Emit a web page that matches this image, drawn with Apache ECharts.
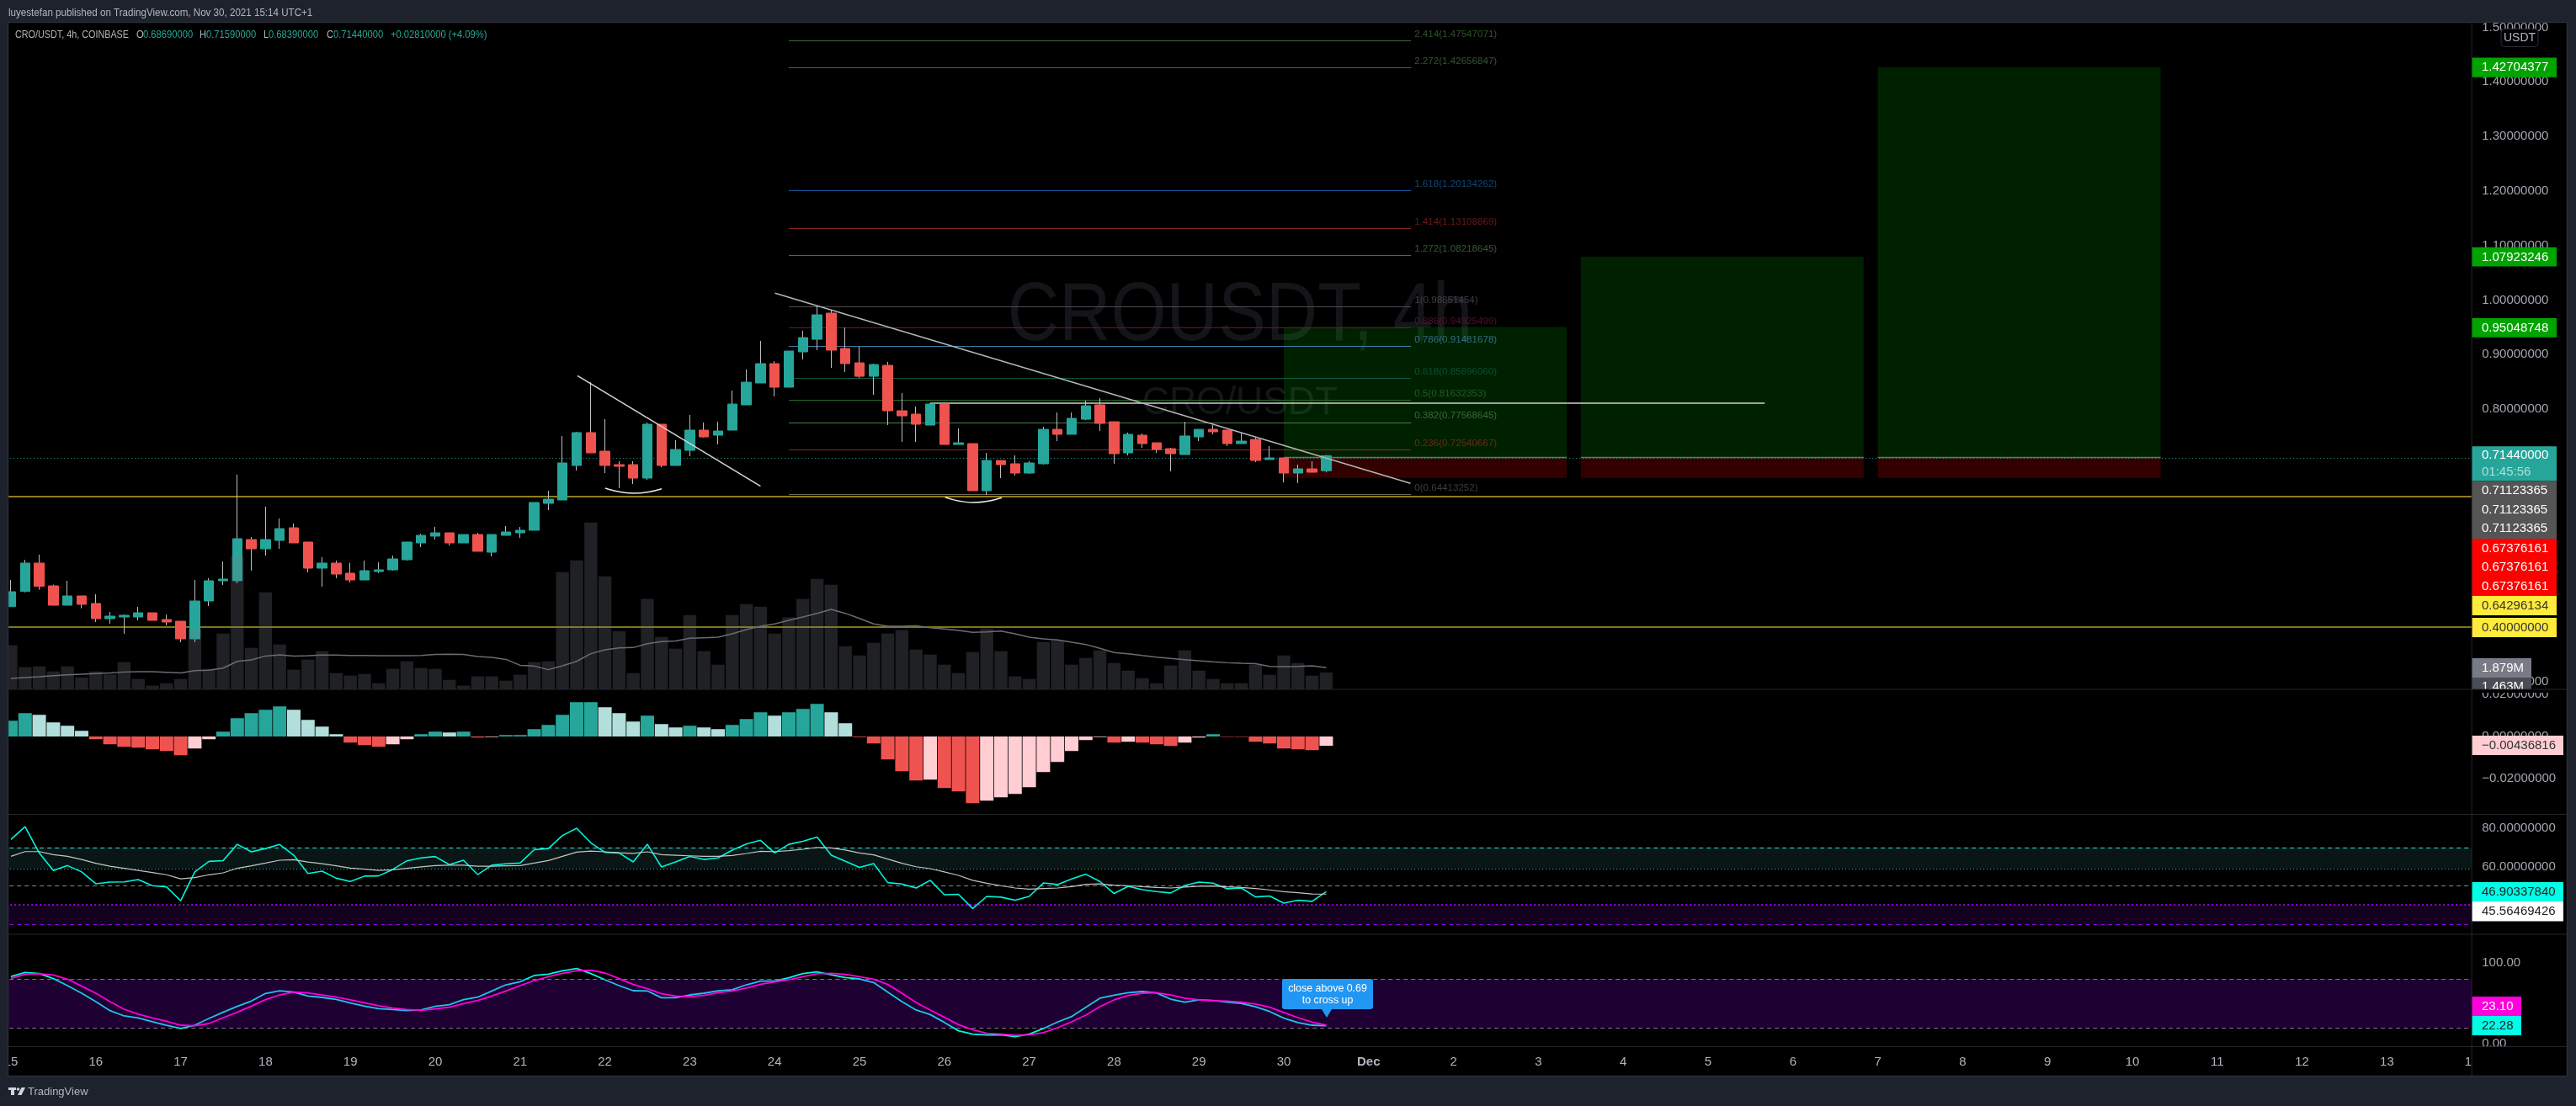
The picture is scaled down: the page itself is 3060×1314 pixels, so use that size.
<!DOCTYPE html>
<html>
<head>
<meta charset="utf-8">
<style>html,body{margin:0;padding:0;background:#1e222d;overflow:hidden}#c{width:3060px;height:1314px}</style>
<script src="https://cdn.jsdelivr.net/npm/echarts@6/dist/echarts.min.js"></script>
</head>
<body>
<div id="c"></div>
<script>
var opens=[.4378,.4656,.5176,.4759,.4404,.4574,.4435,.4157,.4188,.4188,
.4265,.4142,.4111,.3787,.4481,.4852,.4852,.5608,.5438,.5592,
.5824,.5562,.5083,.5176,.4991,.4867,.5021,.5052,.5237,.5546,
.5670,.5731,.5546,.5700,.5376,.5685,.5731,.5778,.6271,.6333,
.6966,.7568,.7228,.6981,.6981,.6734,.7722,.6966,.7243,.7614,
.7521,.7614,.8077,.8478,.8833,.8401,.9049,.9280,.9759,.9111,
.8848,.8601,.8802,.7969,.7907,.7706,.8092,.7351,.7367,.6503,
.7058,.6997,.6827,.6997,.7629,.7537,.7814,.8077,.7768,.7197,
.7521,.7382,.7274,.7166,.7490,.7629,.7614,.7367,.7444,.7074,
.7105,.6827,.6904,.6869];
var closes=[.4651,.5176,.4749,.4404,.4574,.4420,.4157,.4204,.4219,.4265,
.4126,.4096,.3787,.4481,.4852,.4883,.5623,.5438,.5608,.5808,
.5546,.5083,.5176,.4975,.4867,.5037,.5052,.5253,.5562,.5685,
.5731,.5546,.5700,.5392,.5700,.5747,.5778,.6287,.6349,.7012,
.7568,.7197,.6966,.6950,.6734,.7722,.6966,.7259,.7614,.7490,
.7598,.8092,.8493,.8833,.8401,.9064,.9311,.9728,.9080,.8833,
.8601,.8817,.7969,.7876,.7722,.8092,.7351,.7382,.6503,.7058,
.6981,.6827,.7012,.7629,.7537,.7830,.8061,.7737,.7182,.7537,
.7367,.7259,.7182,.7506,.7629,.7583,.7367,.7413,.7058,.7105,
.6827,.6904,.6842,.7144];
var highs=[.4867,.5237,.5330,.4780,.4852,.4574,.4605,.4281,.4234,.4373,
.4265,.4234,.4111,.4867,.4898,.5207,.6796,.5654,.6210,.5994,
.5901,.5562,.5284,.5222,.5182,.5222,.5191,.5315,.5562,.5716,
.5839,.5731,.5700,.5731,.5700,.5855,.5839,.6287,.6503,.7506,
.7583,.8494,.7815,.7043,.7043,.7753,.7722,.7429,.7892,.7753,
.7768,.8339,.8725,.9250,.8879,.9064,.9435,.9898,.9805,.9497,
.9142,.8833,.8864,.8293,.8046,.8108,.8108,.7645,.7367,.7197,
.7058,.7151,.7043,.7676,.7938,.7938,.8154,.8200,.7768,.7567,
.7552,.7382,.7290,.7768,.7629,.7706,.7614,.7567,.7490,.7321,
.7105,.6981,.7043,.7159];
var lows=[.4378,.4641,.4687,.4404,.4404,.4348,.4096,.4065,.3879,.4126,
.4126,.4034,.3725,.3725,.4389,.4775,.4805,.5037,.5315,.5438,
.5546,.5006,.4744,.4898,.4821,.4867,.4991,.5037,.5222,.5469,
.5608,.5500,.5546,.5392,.5299,.5685,.5639,.5778,.6148,.6333,
.6873,.7197,.6827,.6549,.6626,.6704,.6935,.6966,.7135,.7475,
.7351,.7614,.8077,.8478,.8231,.8401,.8910,.9080,.8756,.8679,
.8571,.8262,.7706,.7398,.7398,.7706,.7351,.7351,.6503,.6426,
.6734,.6780,.6811,.6981,.7413,.7537,.7799,.7598,.6997,.7151,
.7290,.7197,.6858,.7166,.7413,.7537,.7321,.7367,.7027,.7074,
.6657,.6642,.6842,.6839];
var volumes=[3.81,1.92,1.99,1.55,1.99,1.04,1.55,1.28,2.35,.90,
.32,.53,.90,5.19,1.77,4.82,11.52,3.59,8.39,3.88,
1.70,2.57,3.30,1.41,1.19,1.33,.53,1.77,2.42,1.84,
1.77,.82,.32,1.12,1.12,.75,1.26,2.35,2.42,10.13,
11.15,14.42,9.77,5.04,1.41,7.81,4.53,3.52,6.42,3.30,
2.13,6.42,7.37,7.15,4.82,6.21,7.81,9.55,9.04,3.73,
2.93,4.02,4.82,5.12,3.44,3.01,2.13,1.41,3.22,5.26,
3.30,1.12,.90,4.10,4.24,2.13,2.72,3.37,2.28,1.62,
.97,.53,2.06,3.37,1.62,.90,.53,.53,2.13,1.26,
2.93,2.28,1.19,1.46];
var volumeMA=[.95,1.02,1.09,1.19,1.26,1.31,1.36,1.41,1.50,1.53,
1.53,1.48,1.41,1.62,1.65,1.84,2.42,2.55,2.88,2.98,
2.88,2.91,2.96,2.96,2.93,2.93,2.91,2.91,2.91,2.93,
3.01,3.03,3.01,2.84,2.76,2.59,2.08,2.01,1.70,2.04,
2.42,3.08,3.42,3.59,3.61,3.95,4.12,4.19,4.41,4.46,
4.51,4.80,5.16,5.45,5.65,5.96,6.25,6.57,6.91,6.57,
6.13,5.65,5.45,5.45,5.50,5.33,5.21,5.09,4.92,4.97,
5.04,4.80,4.51,4.36,4.27,4.07,3.88,3.54,3.18,3.08,
2.93,2.79,2.67,2.57,2.47,2.38,2.30,2.25,2.21,1.99,
1.96,1.99,2.04,1.88];
var macdHist=[.0075,.0111,.0103,.0067,.0051,.0027,-.0013,-.0037,-.0049,-.0053,
-.0061,-.0069,-.0089,-.0057,-.0013,.0023,.0087,.0111,.0127,.0143,
.0127,.0079,.0047,.0011,-.0029,-.0041,-.0049,-.0037,-.0013,.0011,
.0023,.0019,.0023,-.0005,-.0003,.0007,.0007,.0035,.0055,.0103,
.0163,.0163,.0139,.0111,.0071,.0099,.0059,.0043,.0051,.0043,
.0035,.0055,.0083,.0115,.0099,.0115,.0131,.0155,.0115,.0063,
-.0003,-.0033,-.0109,-.0165,-.0209,-.0205,-.0245,-.0261,-.0317,-.0305,
-.0289,-.0273,-.0241,-.0169,-.0121,-.0069,-.0017,-.0003,-.0029,-.0025,
-.0029,-.0037,-.0045,-.0029,-.0005,.0011,-.0002,-.0002,-.0025,-.0033,
-.0057,-.0061,-.0065,-.0044];
var rsiValues=[74.1,80.8,67.1,57.9,60.5,57.2,51.0,51.9,52.0,53.2,
50.0,49.4,42.1,57.2,62.7,63.1,71.6,67.7,69.4,71.5,
65.9,56.4,57.6,53.9,52.2,55.0,55.1,58.5,63.0,64.5,
65.2,61.0,63.3,55.8,60.7,61.4,61.8,68.8,69.4,76.2,
80.0,72.4,67.4,67.1,62.4,71.6,59.8,62.4,65.3,63.7,
64.5,68.6,71.8,73.7,67.1,71.6,73.2,75.4,65.9,62.7,
59.6,61.5,51.6,50.9,48.8,52.8,45.3,45.5,38.1,44.4,
44.0,42.4,44.4,51.4,50.6,53.5,56.0,52.2,45.9,49.7,
47.9,46.9,46.2,50.1,51.9,51.3,48.4,48.8,44.1,44.6,
40.9,42.4,41.8,46.9];
var rsiMA=[65.3,67.8,67.8,66.2,65.3,63.7,61.7,60.2,59.1,58.0,
56.9,55.7,53.6,54.2,55.7,56.7,59.1,60.4,61.8,63.3,
63.6,62.4,61.5,60.4,59.2,58.6,58.0,58.3,59.1,59.8,
60.5,60.7,60.7,60.2,60.2,60.4,60.5,61.8,63.1,65.3,
67.5,68.1,67.7,67.2,66.9,67.7,66.2,65.9,65.6,65.3,
65.3,65.8,66.8,68.0,67.8,68.3,69.0,70.0,69.7,68.6,
67.1,66.1,63.9,61.7,59.9,58.9,57.2,55.4,52.8,51.3,
50.0,48.8,48.2,48.5,48.8,49.5,50.7,50.9,50.3,50.0,
49.5,49.1,48.8,49.3,49.7,49.8,49.4,49.1,48.5,47.8,
46.9,46.3,45.7,45.6];
var stochK=[83.3,88.2,86.8,80.6,71.9,62.5,52.1,41.0,34.4,32.0,
27.1,22.9,18.8,22.9,31.3,38.9,46.2,52.8,62.2,65.6,
63.9,59.0,57.3,54.9,50.4,46.5,43.4,42.4,41.0,41.7,
46.2,48.3,54.5,57.6,65.3,72.9,76.7,84.4,86.1,90.3,
93.1,86.8,79.2,71.9,65.6,65.3,56.9,56.9,60.4,62.5,
65.6,66.7,72.9,77.4,77.4,81.6,86.8,88.9,85.4,81.9,
80.2,75.7,63.9,52.1,41.7,36.1,26.4,16.0,11.8,10.8,
11.1,8.7,11.8,18.8,26.8,33.7,45.1,56.3,60.1,63.2,
64.6,62.9,55.2,51.4,54.2,53.5,51.4,50.0,45.8,39.9,
31.6,26.1,22.9,22.3];
var stochD=[80.9,85.8,86.5,85.1,79.9,71.2,62.5,52.1,42.7,36.5,
32.0,27.8,22.9,22.2,25.0,32.0,38.9,46.5,54.5,60.4,
63.9,62.9,60.4,57.6,54.2,50.7,46.9,44.1,42.4,41.3,
43.1,45.1,49.7,53.5,59.0,65.3,71.9,78.1,83.0,87.2,
90.3,91.0,87.5,80.6,73.3,68.1,61.8,59.0,58.3,59.7,
63.2,65.3,68.8,73.6,76.4,79.2,83.0,86.5,87.2,85.8,
83.0,79.9,73.3,62.5,51.1,41.7,32.7,23.6,17.4,12.9,
11.8,10.4,11.1,13.6,19.8,27.1,35.4,45.8,54.2,59.7,
62.5,63.2,60.4,56.3,54.2,53.1,52.8,51.4,49.0,45.1,
38.6,32.3,26.8,23.1];
var dayLabels=['14','15','16','17','18','19','20','21','22','23','24','25','26','27','28','29','30','Dec','2','3','4','5','6','7','8','9','10','11','12','13','14'];
var fibRatios=['2.414','2.272','1.618','1.414','1.272','1','0.886','0.786','0.618','0.5','0.382','0.236','0'];
var fibPrices=[1.47547071,1.42656847,1.20134262,1.13108869,1.08218645,0.98851454,0.94925499,0.91481678,0.85696060,0.81632353,0.77568645,0.72540667,0.64413252];
var fibStartBar=55, fibEndBar=99;
var positionBars=[[90,110],[111,131],[132,152]];
var positionTargets=[0.95048748,1.07923246,1.42704377];
var positionEntry=0.71123365, positionStop=0.67376161;
var supportLevels=[0.64296134,0.40000000];
var lastPrice=0.7144;
var resistanceLine=[[65,0.8119],[124,0.8119]];
var trendMajor=[[54.02,1.0125],[98.96,0.6637]];
var trendMinor=[[40.06,0.8613],[53.0,0.6585]];
var arcOne=[[42.02,0.6549],[44.02,0.6457],[46.01,0.6539]];
var arcTwo=[[66.05,0.6384],[68.04,0.6287],[70.06,0.6375]];
var rsiBands=[[59,70],[30,40]];
var rsiLevels=[70,59,50,40,30];
var stochBand=[20,80];
var priceTagText=['1.42704377','1.07923246','0.95048748','0.71440000','01:45:56','0.71123365','0.67376161','0.64296134','0.40000000','1.879M','1.463M','\u22120.00436816','46.90337840','45.56469426','23.10','22.28'];

var FONT='"Liberation Sans"';
var fibColors=['#3a6a35','#406a3c','#14589a','#8a1f1f','#466d46','#4c4c52','#701238','#3d7fa8','#0c5a45','#2a6a2a','#4a7a4a','#8a2a1a','#4a4a4a'];
var fibLineColors=fibColors.slice(); fibLineColors[12]='#6a6a55';
var UP='#26a69a', DOWN='#ef5350';

function idx(a){return a.map(function(v,i){return [i,v];});}
var L=-87.8, W=3024;
function grid(top,h){return {left:L,width:W,top:top,height:h,show:false,outerBoundsMode:'none'};}
function xAx(i,show){return {type:'value',gridIndex:i,min:-6,max:174,interval:6,splitLine:{show:false},axisLine:{show:false},axisTick:{show:false},
 axisLabel:{show:show,color:'#b2b5be',fontFamily:FONT,fontSize:15,margin:14,hideOverlap:false,showMinLabel:true,showMaxLabel:true,
  formatter:function(v){var s=dayLabels[Math.round(v/6)+1];return s==='Dec'?'{b|Dec}':s;},rich:{b:{fontFamily:FONT,fontSize:15,fontWeight:'bold',color:'#b2b5be'}}}};}
function yAx(i,min,max,interval,fmt,show){return {type:'value',gridIndex:i,position:'right',min:min,max:max,interval:interval,z:50,splitLine:{show:false},axisLine:{show:false},axisTick:{show:false},
 axisLabel:{show:show,color:'#a3a6af',fontFamily:FONT,fontSize:15,margin:12,formatter:fmt,hideOverlap:false,showMinLabel:true,showMaxLabel:true}};}

var fibSeriesLines=fibPrices.map(function(p,i){return [{coord:[fibStartBar,p],lineStyle:{color:fibLineColors[i],width:1.2,type:'solid'}},{coord:[fibEndBar,p]}];});
function hline(p,c,w,t){return {yAxis:p,lineStyle:{color:c,width:w,type:t||'solid'}};}

var mainAreas=[];
positionBars.forEach(function(b,i){
 mainAreas.push([{xAxis:b[0],yAxis:positionTargets[i],itemStyle:{color:'rgba(0,255,0,0.13)'}},{xAxis:b[1],yAxis:positionEntry}]);
 mainAreas.push([{xAxis:b[0],yAxis:positionEntry,itemStyle:{color:'rgba(255,0,0,0.2)'}},{xAxis:b[1],yAxis:positionStop}]);
});
var entryLines=positionBars.map(function(b){return [{coord:[b[0],positionEntry],lineStyle:{color:'#6e6e6e',width:1.3,type:'solid'}},{coord:[b[1],positionEntry]}];});

function trend(d,c,w,smooth){return {type:'line',data:d,xAxisIndex:0,yAxisIndex:0,showSymbol:false,symbol:'none',smooth:!!smooth,z:6,silent:true,animation:false,lineStyle:{color:c,width:w}};}

var series=[
 {type:'scatter',xAxisIndex:0,yAxisIndex:0,symbolSize:0,z:2,silent:true,animation:false,
  data:fibPrices.map(function(p,i){return {value:[fibEndBar,p],label:{show:true,position:'right',distance:4,offset:[0,-7.5],color:fibColors[i],fontFamily:FONT,fontSize:11.6,
    formatter:fibRatios[i]+'('+p.toFixed(8)+')'}};}),
  markArea:{silent:true,z:1,animation:false,data:mainAreas},
  markLine:{symbol:'none',silent:true,label:{show:false},animation:false,z:2,lineStyle:{type:'solid'},
   data:fibSeriesLines.concat(entryLines).concat([
    hline(supportLevels[0],'#c2a61e',1.5),hline(supportLevels[1],'#a89e20',1.5),
    hline(lastPrice,UP,1,[1,3]),
    [{coord:resistanceLine[0],lineStyle:{color:'#cfd2c8',width:1.5,type:'solid'}},{coord:resistanceLine[1]}]
   ])}},
 {name:'wick',type:'candlestick',xAxisIndex:0,yAxisIndex:0,z:3,silent:true,animation:false,barWidth:1,encode:{x:0,y:[1,2,3,4]},
  data:opens.map(function(o,i){return [i,o,closes[i],lows[i],highs[i]];}),
  itemStyle:{color:'#bdbdc0',color0:'#bdbdc0',borderColor:'#bdbdc0',borderColor0:'#bdbdc0',borderColorDoji:'#bdbdc0',borderWidth:1}},
 {name:'body',type:'candlestick',xAxisIndex:0,yAxisIndex:0,z:3,silent:true,animation:false,barWidth:12,encode:{x:0,y:[1,2,3,4]},
  data:opens.map(function(o,i){return [i,o,closes[i],Math.min(o,closes[i]),Math.max(o,closes[i])];}),
  itemStyle:{color:UP,color0:DOWN,borderColor:UP,borderColor0:DOWN,borderColorDoji:UP,borderWidth:1}},
 trend(trendMajor,'#b5b5b5',1.5), trend(trendMinor,'#d5d5d5',1.5), trend(arcOne,'#e8e8e8',1.5,true), trend(arcTwo,'#e8e8e8',1.5,true),
 {name:'volume',type:'bar',xAxisIndex:1,yAxisIndex:1,data:idx(volumes),barWidth:15.4,z:4,silent:true,animation:false,itemStyle:{color:'rgba(120,123,134,0.27)'}},
 {name:'volumeMA',type:'line',xAxisIndex:1,yAxisIndex:1,data:idx(volumeMA),showSymbol:false,z:5,silent:true,animation:false,lineStyle:{color:'#6b6c72',width:1.5}},
 {name:'macd',type:'bar',xAxisIndex:2,yAxisIndex:2,data:idx(macdHist),barWidth:16,z:3,silent:true,animation:false,
  itemStyle:{color:function(p){var v=macdHist[p.dataIndex],q=p.dataIndex?macdHist[p.dataIndex-1]:0;
    if(v>=0)return v>=q?UP:'#b2dfdb';return v<=q?DOWN:'#ffcdd2';}}},
 {name:'rsi',type:'line',xAxisIndex:3,yAxisIndex:3,data:idx(rsiValues),showSymbol:false,z:3,silent:true,animation:false,lineStyle:{color:'#00f5dc',width:1.6},
  markArea:{silent:true,z:1,animation:false,data:[
    [{yAxis:rsiBands[0][0],itemStyle:{color:'#091615'}},{yAxis:rsiBands[0][1]}],
    [{yAxis:rsiBands[1][0],itemStyle:{color:'#14001f'}},{yAxis:rsiBands[1][1]}]]},
  markLine:{symbol:'none',silent:true,label:{show:false},animation:false,z:2,data:[
    hline(rsiLevels[0],'#2be0d0',1.2,[5,4]),hline(rsiLevels[1],'#2be0d0',1,[1,3]),hline(rsiLevels[2],'#8a8a8a',1.2,[5,4]),
    hline(rsiLevels[3],'#9400e0',2,[2,3]),hline(rsiLevels[4],'#9400e0',1.2,[5,4])]}},
 {name:'rsiMA',type:'line',xAxisIndex:3,yAxisIndex:3,data:idx(rsiMA),showSymbol:false,z:3,silent:true,animation:false,lineStyle:{color:'#c4c4c4',width:1.2}},
 {name:'k',type:'line',xAxisIndex:4,yAxisIndex:4,data:idx(stochK),showSymbol:false,z:2,silent:true,animation:false,lineStyle:{color:'#00f5e5',width:1.8},
  markArea:{silent:true,z:5,animation:false,data:[[{yAxis:stochBand[0],itemStyle:{color:'rgba(155,0,255,0.2)'}},{yAxis:stochBand[1]}]]},
  markLine:{symbol:'none',silent:true,label:{show:false},animation:false,z:2,data:[hline(stochBand[1],'#8a7394',1.2,[5,4]),hline(stochBand[0],'#8a7394',1.2,[5,4])]}},
 {name:'d',type:'line',xAxisIndex:4,yAxisIndex:4,data:idx(stochD),showSymbol:false,z:6,silent:true,animation:false,lineStyle:{color:'#ff00dd',width:1.8}}
];

var FRAME='#1e222d', SEP='#27272c';
var g=[];
function rect(x,y,w,h,fill,z,r){g.push({type:'rect',silent:true,z:z,shape:{x:x,y:y,width:w,height:h,r:r||0},style:{fill:fill}});}
function txt(t,x,y,fill,size,z,align,bold,sy){var e={type:'text',silent:true,z:z,style:{text:t,x:x,y:y,fill:fill,font:(bold?'bold ':'')+size+'px '+FONT,textAlign:align||'left',textVerticalAlign:'middle'}};
 if(sy){e.originX=x;e.originY=y;e.scaleY=sy;} g.push(e);}
function poly(pts,fill,z){g.push({type:'polygon',silent:true,z:z,shape:{points:pts},style:{fill:fill}});}

// watermark beneath everything
txt('CROUSDT, 4h',1473,377,'#141519',85,0,'center',false,1.15);
txt('CRO/USDT',1473,479,'#15161a',44.5,0,'center',false,1.04);

// right axis panel
rect(2936.5,27,113,1251,'#000',40);
var Z=55;
function tag(x1,y0,y1,fill){rect(2936,y0,x1-2936,y1-y0,fill,Z);}
tag(3037,68.6,91.8,'#00a300'); txt(priceTagText[0],2948,80,'#fff',15,Z);
tag(3037,293.8,316.5,'#00a300'); txt(priceTagText[1],2948,305.5,'#fff',15,Z);
tag(3037,378,400.7,'#00a300'); txt(priceTagText[2],2948,389.5,'#fff',15,Z);
tag(3037,530.3,571.5,UP); txt(priceTagText[3],2948,541,'#fff',15,Z); txt(priceTagText[4],2948,561,'#b2dfdb',15,Z);
tag(3037,571.5,640,'#555555'); [583,605.5,628].forEach(function(y){txt(priceTagText[5],2948,y,'#fff',15,Z);});
tag(3037,640,708,'#ff0000'); [651.5,674,696.5].forEach(function(y){txt(priceTagText[6],2948,y,'#fff',15,Z);});
tag(3037,708,731,'#ffeb3b'); txt(priceTagText[7],2948,719.5,'#333',15,Z);
tag(3037,734,757,'#ffeb3b'); txt(priceTagText[8],2948,745.5,'#333',15,Z);
tag(3007,782,805,'#787b86'); txt(priceTagText[9],2948,794,'#fff',15,Z);
tag(3007,805,819,'#4a4c56'); txt(priceTagText[10],2948,816,'#fff',15,Z);
rect(2936.5,819,113,4,'#000',56);
tag(3045,874,897,'#ffcdd2'); txt(priceTagText[11],2948,885.5,'#333',15,Z);
tag(3045,1048,1071,'#00ffe5'); txt(priceTagText[12],2948,1059.5,'#222',15,Z);
tag(3045,1071,1094.5,'#ffffff'); txt(priceTagText[13],2948,1083,'#222',15,Z);
tag(2995,1184,1207,'#ff00dd'); txt(priceTagText[14],2948,1195.5,'#fff',15,Z);
tag(2995,1207,1230,'#00ffe5'); txt(priceTagText[15],2948,1218.5,'#222',15,Z);
rect(2936.5,1243.5,113,34,'#000',52);

// USDT badge
g.push({type:'rect',silent:true,z:Z,shape:{x:2971,y:34.5,width:44,height:21,r:4},style:{fill:'#000',stroke:'#2a2e39',lineWidth:1}});
txt('USDT',2993,45.5,'#b2b5be',14,Z+1,'center');

// pane separators
[819,967.5,1110,1243.5].forEach(function(y){rect(10,y-0.5,3039,1,SEP,58);});
rect(2935.7,27,1,1251,SEP,58);

// callout
rect(1523,1163,108,36,'#2196f3',57,3);
poly([[1570,1199],[1582,1199],[1576,1209]],'#2196f3',57);
txt('close above 0.69',1577,1174.5,'#fff',12.4,57,'center');
txt('to cross up',1577,1188.5,'#fff',12.4,57,'center');

// outer frame
rect(0,0,3060,27,FRAME,60); rect(0,1278,3060,36,FRAME,60); rect(0,0,10,1314,FRAME,60); rect(3049,0,11,1314,FRAME,60);
g.push({type:'rect',silent:true,z:61,shape:{x:9.5,y:26.5,width:3040,height:1252},style:{fill:'none',stroke:'#2a2e39',lineWidth:1.5}});

// header and legend
txt('luyestefan published on TradingView.com, Nov 30, 2021 15:14 UTC+1',10,15,'#b2b5be',11.6,62,'left',false,1.1);
var LZ=57, GREY='#b2b5be', VAL='#26a69a';
txt('CRO/USDT, 4h, COINBASE',18,42,GREY,10.8,LZ,'left',false,1.1);
txt('O',162,42,GREY,11.2,LZ,'left',false,1.1); txt('0.68690000',170,42,VAL,11.2,LZ,'left',false,1.1);
txt('H',237,42,GREY,11.2,LZ,'left',false,1.1); txt('0.71590000',245,42,VAL,11.2,LZ,'left',false,1.1);
txt('L',313,42,GREY,11.2,LZ,'left',false,1.1); txt('0.68390000',319,42,VAL,11.2,LZ,'left',false,1.1);
txt('C',388,42,GREY,11.2,LZ,'left',false,1.1); txt('0.71440000',396,42,VAL,11.2,LZ,'left',false,1.1);
txt('+0.02810000 (+4.09%)',464,42,VAL,11.2,LZ,'left',false,1.1);

// TradingView mark
rect(10,1292,9,3,'#d1d4dc',62); rect(13,1292,4,9,'#d1d4dc',62);
g.push({type:'circle',silent:true,z:62,shape:{cx:21.5,cy:1294,r:1.8},style:{fill:'#d1d4dc'}});
poly([[25.5,1292],[30,1292],[25.5,1301],[21,1301]],'#d1d4dc',62);
txt('TradingView',33,1297,'#b2b5be',13,62);

var chart=echarts.init(document.getElementById('c'),null,{renderer:'canvas',width:3060,height:1314});
chart.setOption({
 backgroundColor:'#000',animation:false,tooltip:{show:false},legend:{show:false},
 grid:[grid(-32.4,907.2),grid(269,550),grid(775,200),grid(938.5,182),grid(1144,96)],
 xAxis:[xAx(0,false),xAx(1,false),xAx(2,false),xAx(3,false),xAx(4,true)],
 yAxis:[
  yAx(0,0.2,1.6,0.1,function(v){return (v<0.29||v>1.51)?'':v.toFixed(8);},true),
  yAx(1,0,40,10,'',false),
  yAx(2,-0.04,0.04,0.02,function(v){if(Math.abs(v)>0.021)return '';var s=Math.abs(v).toFixed(8);return v<-1e-6?'\u2212'+s:s;},true),
  yAx(3,20,100,20,function(v){return (v<59||v>81)?'':v.toFixed(8);},true),
  yAx(4,0,100,100,function(v){return v.toFixed(2);},true)
 ],
 series:series,
 graphic:{elements:g}
});
</script>
</body>
</html>
